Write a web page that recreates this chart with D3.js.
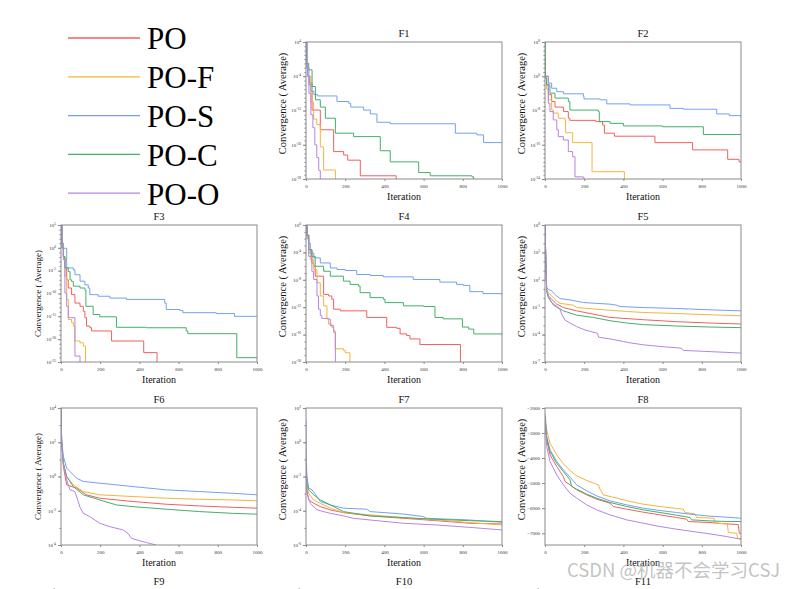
<!DOCTYPE html>
<html><head><meta charset="utf-8">
<script src="https://cdn.jsdelivr.net/npm/d3@7"></script>
<style>
body{margin:0;background:#fff}
svg text{font-family:"Liberation Serif","Times New Roman",serif}
svg text.wm{font-family:"Noto Sans CJK SC","Noto Sans",sans-serif}
</style>
</head><body>
<svg id="c" width="804" height="589"></svg>
<script>
// ---------------- DATA ----------------
const seriesNames = ["PO","PO-F","PO-S","PO-C","PO-O"];
const seriesColors = ["#f0605e","#f4b53c","#73a0f2","#43b06b","#b784e6"];
const panelTitles = ["F1","F2","F3","F4","F5","F6","F7","F8"];
const partialTitles = ["F9","F10","F11"];
const xTicks = [0,200,400,600,800,1000];

// Log panels: values are log10(convergence) at [iteration, log10 value]
const F1_yTicks = [4,-4,-12,-20,-28];
const F1_PO   = [[0,4],[3,-2],[8,-4],[19,-5.6],[31,-11.9],[73,-16.5],[141,-21.6],[192,-22.4],[213,-23.6],[277,-27.25],[460,-40]];
const F1_PO_F = [[0,4],[3,-2],[10,-4],[25,-10],[39,-14],[55,-15.3],[73,-20.5],[90,-25.9],[150,-40]];
const F1_PO_S = [[0,4],[3,-1],[8,-4],[15,-6],[25,-7.5],[40,-8.3],[60,-8.6],[158,-9.9],[218,-10.3],[228,-11.2],[294,-11.9],[328,-12.8],[362,-14.75],[430,-15.1],[762,-17.3],[872,-17.7],[906,-19.5],[1000,-19.5]];
const F1_PO_C = [[0,4],[5,-1],[14,-2.5],[31,-6.4],[48,-9.5],[73,-11.2],[99,-13.8],[150,-17.3],[243,-18.1],[379,-21.4],[430,-24],[575,-26.5],[634,-27.25],[847,-27.5],[855,-40]];
const F1_PO_O = [[0,4],[5,-2],[15,-8],[25,-13],[35,-16],[45,-20],[55,-23],[65,-26],[73,-40]];

const F2_yTicks = [8,0,-8,-16,-24];
const F2_PO   = [[0,0],[8,-2],[17,-4.3],[34,-5.9],[51,-7.2],[94,-8.25],[119,-9.8],[127,-10.3],[260,-10.6],[294,-11.4],[303,-13.3],[354,-14],[558,-14],[561,-15.5],[753,-17.2],[932,-19.4],[990,-20],[1000,-20]];
const F2_PO_F = [[0,0],[8,-3],[17,-5.5],[34,-7.9],[43,-8.6],[68,-9.8],[102,-10.2],[105,-13.2],[141,-15.5],[240,-22.3],[405,-40]];
const F2_PO_S = [[0,0],[17,-1.6],[34,-2.8],[60,-3.6],[94,-4.1],[196,-4.7],[199,-5.3],[281,-5.5],[315,-6.45],[434,-6.7],[638,-7.5],[706,-7.7],[876,-8.8],[940,-9.2],[1000,-9.65]];
const F2_PO_C = [[0,8],[2,-0.5],[8,-2],[25,-3.95],[51,-5.1],[119,-5.9],[127,-7.9],[272,-8.25],[277,-10.6],[332,-11],[400,-11.6],[600,-11.8],[808,-13.6],[1000,-13.6]];
const F2_PO_O = [[0,0],[17,-6.3],[25,-8.25],[42,-10.2],[60,-12.5],[68,-14.1],[94,-14.9],[119,-17.6],[141,-18.8],[153,-23.5],[196,-23.7],[200,-40]];

const F3_yTicks = [5,0,-5,-10,-15,-20,-25];
const F3_PO   = [[0,5],[5,1],[12,-2],[20,-4.4],[29,-7],[37,-8.8],[54,-10.25],[71,-12.1],[97,-12.8],[114,-13.9],[122,-15.3],[130,-17.15],[147,-17.5],[156,-18.2],[258,-20.4],[422,-22.95],[490,-40]];
const F3_PO_F = [[0,5],[5,1],[12,-2],[20,-6.25],[29,-11.3],[37,-15.7],[54,-16.4],[63,-17.15],[71,-20.4],[97,-20.8],[114,-21.5],[125,-40]];
const F3_PO_S = [[0,5],[5,0],[12,-0.1],[29,-4.4],[63,-4.8],[71,-5.9],[97,-7.3],[122,-8.1],[139,-8.8],[147,-10.25],[190,-10.6],[249,-11],[334,-11.3],[529,-12.1],[537,-13.5],[605,-13.7],[622,-14.2],[792,-14.4],[885,-15],[1000,-15]];
const F3_PO_C = [[0,5],[5,0],[12,-1.9],[20,-4.4],[37,-5.2],[46,-7],[54,-7.35],[63,-8.4],[97,-8.8],[122,-9.2],[127,-12.8],[164,-14.6],[198,-15.1],[283,-17.4],[436,-17.5],[639,-18.2],[647,-18.8],[897,-24.05],[1000,-24.2]];
const F3_PO_O = [[0,5],[5,1],[12,-2.6],[20,-9.9],[29,-12.8],[37,-15.3],[71,-23.7],[97,-40]];

const F4_yTicks = [0,-4,-8,-12,-16,-20];
const F4_PO   = [[0,0],[5,-1.5],[14,-3.6],[30,-5.54],[39,-6.02],[47,-7.47],[90,-10.12],[115,-10.36],[132,-10.84],[141,-12.29],[175,-12.53],[310,-13.49],[412,-14.94],[463,-15.08],[480,-15.9],[514,-16.14],[530,-16.63],[581,-17.45],[788,-40]];
const F4_PO_F = [[0,0],[5,-2],[14,-4.1],[22,-5.06],[39,-6.5],[56,-8.43],[73,-10.36],[90,-11.8],[107,-13.73],[115,-14.46],[132,-14.94],[141,-15.42],[149,-18.07],[191,-18.3],[200,-18.65],[224,-40]];
const F4_PO_S = [[0,0],[5,-1.5],[14,-2.65],[22,-4.1],[40,-4.8],[73,-5.54],[124,-6.27],[158,-6.5],[200,-6.65],[259,-7.23],[327,-7.37],[395,-7.57],[547,-7.95],[683,-8.34],[768,-8.67],[802,-8.82],[836,-9.73],[903,-10.02],[1000,-10.2]];
const F4_PO_C = [[0,0],[5,-1.5],[14,-3.6],[30,-4.58],[47,-6.02],[90,-6.75],[124,-7.47],[191,-8.19],[225,-8.67],[268,-8.92],[276,-9.88],[327,-10.6],[395,-10.84],[403,-11.33],[497,-11.8],[600,-11.9],[658,-13.5],[700,-13.7],[798,-14.9],[830,-15.2],[856,-15.9],[1000,-16.1]];
const F4_PO_O = [[0,0],[5,-2],[14,-4.58],[30,-6.75],[39,-7.95],[56,-10.36],[64,-12.29],[73,-13.25],[81,-13.64],[115,-13.73],[124,-14.7],[141,-15.66],[150,-40]];

const F5_yTicks = [8,5,2,-1,-4,-7];
const F5_PO   = [[0,8],[5,3.5],[8.5,0.95],[17,0.23],[34,-0.13],[59.5,-0.67],[93.5,-1.04],[161.6,-1.4],[246.6,-1.76],[331.6,-2.12],[501.7,-2.37],[671.8,-2.59],[841.8,-2.73],[1000,-2.84]];
const F5_PO_F = [[0,8],[5,3.5],[8.5,0.95],[17,0.59],[34,0.23],[59.5,-0.31],[76.5,-0.57],[144.6,-0.78],[161.6,-1.04],[263.6,-1.22],[416.7,-1.47],[501.7,-1.58],[671.8,-1.69],[841.8,-1.83],[1000,-1.94]];
const F5_PO_S = [[0,8],[5,3.48],[8.5,1.13],[17,0.95],[34,0.77],[59.5,0.23],[76.5,-0.06],[127.5,-0.2],[195.6,-0.49],[332,-0.67],[366,-0.78],[383,-0.93],[502,-1.04],[672,-1.14],[842,-1.29],[1000,-1.4]];
const F5_PO_C = [[0,8],[5,3.5],[8.5,0.77],[17,0.05],[34,-0.49],[59.5,-0.93],[93.5,-1.4],[161.6,-1.87],[246.6,-2.12],[331.6,-2.48],[416.7,-2.73],[501.7,-2.91],[671.8,-3.06],[841.8,-3.17],[1000,-3.24]];
const F5_PO_O = [[0,8],[5,3.5],[8.5,0.77],[25.5,-0.13],[42.5,-0.78],[76.5,-1.22],[85,-1.76],[102,-2.41],[127.5,-2.73],[161.6,-3.13],[204,-3.49],[267,-3.85],[274,-4.29],[331.6,-4.47],[400,-4.76],[434,-4.9],[502,-5.12],[587,-5.3],[672,-5.44],[697,-5.5],[706,-5.73],[1000,-6.02]];

const F6_yTicks = [4,2,0,-2,-4];
const F6_PO   = [[0,4],[3.4,2],[12,0.59],[29,-0.49],[80,-0.68],[130,-1.07],[198,-1.27],[368,-1.46],[537,-1.62],[707,-1.72],[876,-1.8],[1000,-1.85]];
const F6_PO_F = [[0,4],[3.4,2],[12,0.78],[29,0],[63,-0.49],[114,-0.88],[198,-1.07],[368,-1.17],[537,-1.27],[707,-1.33],[876,-1.37],[1000,-1.42]];
const F6_PO_S = [[0,4],[3.4,2.15],[12,1.17],[29,0.49],[46,0.29],[80,-0.1],[114,-0.29],[198,-0.39],[368,-0.59],[537,-0.78],[707,-0.88],[876,-0.98],[1000,-1.07]];
const F6_PO_C = [[0,4],[3.4,2],[12,0.78],[29,0],[63,-0.59],[114,-1.07],[198,-1.37],[283,-1.66],[368,-1.76],[537,-1.91],[707,-2.05],[876,-2.15],[1000,-2.2]];
const F6_PO_O = [[0,4],[3.4,2],[12,0.78],[29,-0.2],[46,-0.78],[71,-0.88],[88,-1.46],[97,-1.8],[114,-2.15],[147,-2.34],[198,-2.73],[249,-2.93],[317,-3.12],[342,-3.32],[359,-3.61],[402,-3.75],[436,-3.86],[486,-4],[490,-4.5]];

const F7_yTicks = [2,0,-2,-4,-6];
const F7_PO   = [[0,-1.8],[5,-2.78],[13.6,-3.37],[39,-3.56],[73,-3.76],[124,-3.95],[191.5,-4.11],[327,-4.3],[497,-4.44],[666,-4.58],[836,-4.73],[1000,-4.77]];
const F7_PO_F = [[0,-1.41],[5,-2.59],[13.6,-2.98],[39,-3.37],[73,-3.56],[124,-3.85],[191.5,-4.11],[327,-4.24],[497,-4.4],[666,-4.54],[836,-4.69],[1000,-4.83]];
const F7_PO_S = [[0,-0.83],[5,-2],[13.6,-2.68],[30.5,-2.78],[56,-3.17],[73,-3.46],[124,-3.66],[158,-3.76],[191.5,-3.85],[310,-3.91],[327,-4.05],[497,-4.19],[598,-4.34],[615,-4.44],[836,-4.54],[903,-4.6],[1000,-4.67]];
const F7_PO_C = [[0,-1.22],[5,-2.39],[13.6,-2.78],[39,-3.07],[73,-3.37],[124,-3.66],[191.5,-4.05],[327,-4.3],[497,-4.4],[666,-4.5],[836,-4.58],[1000,-4.63]];
const F7_PO_O = [[0,1.32],[1.7,-1.8],[5,-2.98],[22,-3.56],[56,-3.95],[124,-4.15],[191.5,-4.3],[242,-4.44],[327,-4.54],[497,-4.73],[666,-4.83],[836,-4.97],[1000,-5.12]];

// Linear panel F8: [iteration, value]
const F8_yTicks = [-2000,-3000,-4000,-5000,-6000,-7000];
const F8_PO   = [[0,-2333],[8.5,-3267],[25.5,-3867],[59.5,-4333],[93.5,-4733],[102,-4933],[127.5,-5067],[161.6,-5267],[212.6,-5467],[263.6,-5640],[331.6,-5800],[348.6,-5933],[416.7,-6040],[501.7,-6160],[586.7,-6267],[671.8,-6373],[722.8,-6440],[731.3,-6533],[841.8,-6573],[926.9,-6627],[986.4,-6653],[991.5,-7000],[1000,-7027]];
const F8_PO_F = [[0,-2200],[8.5,-2867],[25.5,-3400],[59.5,-3867],[93.5,-4227],[127.5,-4493],[161.6,-4707],[212.6,-4893],[272,-5067],[280.6,-5240],[297.6,-5467],[331.6,-5533],[382.7,-5627],[433.7,-5733],[501.7,-5840],[586.7,-5933],[671.8,-6013],[705.8,-6040],[714.3,-6173],[765.3,-6227],[773.8,-6373],[862.2,-6400],[867.3,-6600],[930.3,-6627],[935.4,-6973],[977.9,-7000],[983,-7213],[1000,-7213]];
const F8_PO_S = [[0,-2333],[8.5,-3133],[25.5,-3667],[59.5,-4133],[93.5,-4467],[127.5,-4760],[161.6,-5067],[212.6,-5307],[263.6,-5507],[331.6,-5707],[416.7,-5867],[501.7,-6000],[586.7,-6093],[671.8,-6173],[756.8,-6253],[841.8,-6320],[926.9,-6360],[1000,-6400]];
const F8_PO_C = [[0,-2333],[8.5,-3200],[25.5,-3733],[59.5,-4200],[93.5,-4533],[127.5,-4867],[136,-5133],[161.6,-5240],[212.6,-5440],[263.6,-5600],[331.6,-5773],[416.7,-5933],[501.7,-6067],[586.7,-6173],[671.8,-6280],[739.8,-6373],[748.3,-6467],[841.8,-6507],[926.9,-6533],[1000,-6533]];
const F8_PO_O = [[0,-2333],[8.5,-3533],[25.5,-4133],[59.5,-4667],[93.5,-5067],[127.5,-5400],[161.6,-5600],[212.6,-5867],[263.6,-6067],[331.6,-6267],[416.7,-6467],[501.7,-6600],[586.7,-6733],[671.8,-6840],[756.8,-6933],[841.8,-7027],[926.9,-7133],[1000,-7240]];

const watermark = "CSDN @机器不会学习CSJ";

// ---------------- LAYOUT ----------------
const panels = [
  {title:panelTitles[0], col:1, x:306, y:42,  log:true, step:true,  ticks:F1_yTicks, top:4, bottom:-28, s:[F1_PO,F1_PO_F,F1_PO_S,F1_PO_C,F1_PO_O]},
  {title:panelTitles[1], col:2, x:545, y:42,  log:true, step:true,  ticks:F2_yTicks, top:8, bottom:-24, s:[F2_PO,F2_PO_F,F2_PO_S,F2_PO_C,F2_PO_O]},
  {title:panelTitles[2], col:0, x:61,  y:225, log:true, step:true,  ticks:F3_yTicks, top:5, bottom:-25, s:[F3_PO,F3_PO_F,F3_PO_S,F3_PO_C,F3_PO_O]},
  {title:panelTitles[3], col:1, x:306, y:225, log:true, step:true,  ticks:F4_yTicks, top:0, bottom:-20, s:[F4_PO,F4_PO_F,F4_PO_S,F4_PO_C,F4_PO_O]},
  {title:panelTitles[4], col:2, x:545, y:225, log:true, step:false, ticks:F5_yTicks, top:8, bottom:-7, s:[F5_PO,F5_PO_F,F5_PO_S,F5_PO_C,F5_PO_O]},
  {title:panelTitles[5], col:0, x:61,  y:408, log:true, step:false, ticks:F6_yTicks, top:4, bottom:-4, s:[F6_PO,F6_PO_F,F6_PO_S,F6_PO_C,F6_PO_O]},
  {title:panelTitles[6], col:1, x:306, y:408, log:true, step:false, ticks:F7_yTicks, top:2, bottom:-6, s:[F7_PO,F7_PO_F,F7_PO_S,F7_PO_C,F7_PO_O]},
  {title:panelTitles[7], col:2, x:545, y:408, log:false,step:false, ticks:F8_yTicks, top:-2000, bottom:-7470, s:[F8_PO,F8_PO_F,F8_PO_S,F8_PO_C,F8_PO_O]}
];
const W = 196, H = 137;
const frameColor = "#8a8a8a";
const svg = d3.select("#c");

// legend
seriesNames.forEach((n,i)=>{
  const yy = 38 + i*38.8;
  svg.append("line").attr("x1",68).attr("x2",140).attr("y1",yy).attr("y2",yy)
     .attr("stroke",seriesColors[i]).attr("stroke-width",1.3);
  svg.append("text").attr("x",147).attr("y",yy+11.3).attr("font-size",31).attr("fill","#000").text(n);
});

function supLabel(sel, base, exp, fs){
  sel.append("tspan").text(base);
  sel.append("tspan").attr("font-size",fs*0.7).attr("dy",-fs*0.4).text(exp);
}

panels.forEach((p,pi)=>{
  const g = svg.append("g").attr("transform",`translate(${p.x},${p.y})`);
  const x = d3.scaleLinear().domain([0,1000]).range([0,W]);
  const y = p.log ? d3.scaleLog().domain([Math.pow(10,p.bottom),Math.pow(10,p.top)]).range([H,0])
                  : d3.scaleLinear().domain([p.bottom,p.top]).range([H,0]);
  const cid = "clip"+pi;
  g.append("clipPath").attr("id",cid).append("rect").attr("x",0).attr("y",0).attr("width",W).attr("height",H);
  const line = d3.line()
     .x(d=>x(d[0]))
     .y(d=>y(p.log ? Math.pow(10,d[1]) : d[1]))
     .curve(p.step ? d3.curveStepAfter : d3.curveLinear);
  const lg = g.append("g").attr("clip-path",`url(#${cid})`);
  p.s.forEach((arr,i)=>{
    lg.append("path").attr("d",line(arr)).attr("fill","none")
      .attr("stroke",seriesColors[i]).attr("stroke-width",1);
  });
  // frame
  g.append("rect").attr("width",W).attr("height",H).attr("fill","none").attr("stroke",frameColor).attr("stroke-width",1);
  // x axis
  const xa = g.append("g").attr("transform",`translate(0,${H})`)
    .call(d3.axisBottom(x).tickValues(xTicks).tickSize(2).tickPadding(3).tickFormat(d3.format("d")));
  xa.select(".domain").remove();
  xa.selectAll("line").attr("stroke",frameColor);
  xa.selectAll("text").attr("font-size",5).attr("fill","#333");
  // y axis
  if (p.log) {
    const minor = d3.range(p.bottom, p.top+1).map(e=>Math.pow(10,e));
    const ym = g.append("g").call(d3.axisLeft(y).tickValues(minor).tickSize(1.6).tickFormat(""));
    ym.select(".domain").remove(); ym.selectAll("line").attr("stroke",frameColor);
    const major = p.ticks.map(e=>Math.pow(10,e));
    const ya = g.append("g").call(d3.axisLeft(y).tickValues(major).tickSize(3).tickFormat(""));
    ya.select(".domain").remove(); ya.selectAll("line").attr("stroke",frameColor);
    p.ticks.forEach(e=>{
      const t = g.append("text").attr("x",-5).attr("y",y(Math.pow(10,e))).attr("dy","0.35em")
        .attr("text-anchor","end").attr("font-size",5).attr("fill","#333");
      supLabel(t,"10",String(e),5);
    });
  } else {
    const ya = g.append("g").call(d3.axisLeft(y).tickValues(p.ticks).tickSize(3).tickPadding(2).tickFormat(d3.format("d")));
    ya.select(".domain").remove(); ya.selectAll("line").attr("stroke",frameColor);
    ya.selectAll("text").attr("font-size",5).attr("fill","#333");
  }
  // title
  g.append("text").attr("x",W/2).attr("y",-5).attr("text-anchor","middle").attr("font-size",10.5).attr("fill","#111").text(p.title);
  // x label
  g.append("text").attr("x",W/2).attr("y",H+21).attr("text-anchor","middle").attr("font-size",10).attr("fill","#111").text("Iteration");
  // y label
  const yOff = p.col===0 ? 0 : -7;
  const yfs = p.col===0 ? 9 : 10.5;
  g.append("text").attr("transform",`translate(-20,${H/2+yOff}) rotate(-90)`)
    .attr("text-anchor","middle").attr("font-size",yfs).attr("fill","#111").text("Convergence ( Average)");
});

// partially visible bottom row
[61,306,545].forEach((px,i)=>{
  svg.append("text").attr("x",px+W/2).attr("y",585).attr("text-anchor","middle")
    .attr("font-size",10.5).attr("fill","#111").text(partialTitles[i]);
  const t = svg.append("text").attr("x",px-6).attr("y",591).attr("dy","0.35em")
    .attr("text-anchor","end").attr("font-size",5).attr("fill","#333");
  supLabel(t,"10","2",5);
});

// watermark
svg.append("text").attr("class","wm").attr("x",567).attr("y",577).attr("font-size",18.5)
  .attr("fill","#b8b8b8").attr("fill-opacity",0.85).text(watermark);
</script>
</body></html>
